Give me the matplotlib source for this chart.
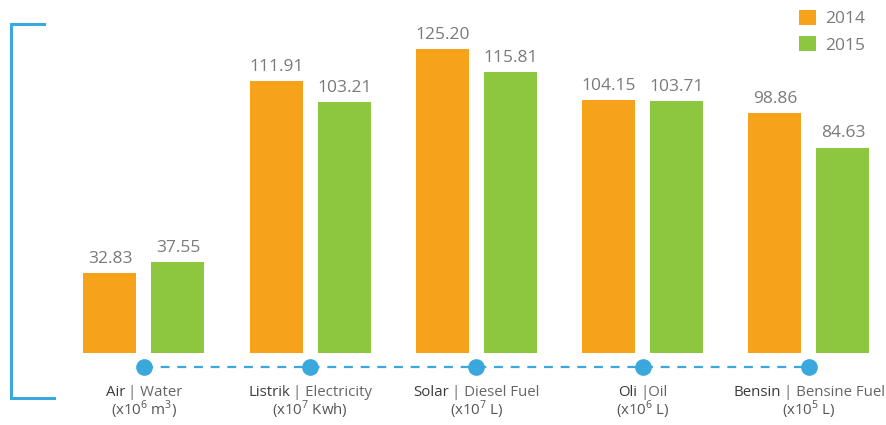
import numpy as np
import matplotlib
matplotlib.use('Agg')
import matplotlib.pyplot as plt
from matplotlib.lines import Line2D

plt.rcParams['font.family'] = ['Open Sans', 'DejaVu Sans']
plt.rcParams['mathtext.fontset'] = 'custom'
plt.rcParams['mathtext.rm'] = 'Open Sans'

# data
cat_id = ['Air', 'Listrik', 'Solar', 'Oli', 'Bensin']
cat_en = ['| Water', '| Electricity', '| Diesel Fuel', '|Oil', '| Bensine Fuel']
units = ['(x10$^6$ m$^3$)', '(x10$^7$ Kwh)', '(x10$^7$ L)', '(x10$^6$ L)', '(x10$^5$ L)']
years = ['2014', '2015']
v2014 = [32.83, 111.91, 125.20, 104.15, 98.86]
v2015 = [37.55, 103.21, 115.81, 103.71, 84.63]

ORANGE = '#F7A21B'
GREEN = '#8DC63F'
BLUE = '#3AA8DD'
VALGRAY = '#7a7a7a'

W, H = 887, 425
fig = plt.figure(figsize=(W/100, H/100), dpi=100)
# axes: zero line at 72px from bottom
ax = fig.add_axes([0, 72/H, 1, 1 - 72/H])
step = 166.25  # px between groups
ppu = 304/125.2  # px per unit
ax.set_xlim(-144/step, (W-144)/step)
ax.set_ylim(0, (H-72)/ppu)
ax.axis('off')

x = np.arange(len(cat_id))
bw = 53/step
off = 34/step
b1 = ax.bar(x - off, v2014, bw, color=ORANGE, label=years[0])
b2 = ax.bar(x + off, v2015, bw, color=GREEN, label=years[1])
for b in (b1, b2):
  ax.bar_label(b, fmt='%.2f', padding=4.5, color=VALGRAY, fontsize=12.5)

# dashed timeline with dots
ydot = -14/ppu
ax.plot([x[0], x[-1]], [ydot, ydot], ls=(0, (4, 3.5)), lw=1.6, color=BLUE, clip_on=False)
ax.plot(x, [ydot]*len(x), 'o', ms=11, color=BLUE, clip_on=False)

# two-tone category labels
r = fig.canvas.get_renderer()
y1 = -39/ppu
y2 = -57/ppu
fs = 10.8
gap = 3  # px between the two parts
for i in range(len(x)):
  t1 = ax.annotate(cat_id[i], (x[i], y1), xytext=(0, 0), textcoords='offset pixels',
                   ha='left', va='center', fontsize=fs, color='#3a3a3a', annotation_clip=False)
  t2 = ax.annotate(cat_en[i], (x[i], y1), xytext=(0, 0), textcoords='offset pixels',
                   ha='left', va='center', fontsize=fs, color='#656565', annotation_clip=False)
  w1 = t1.get_window_extent(r).width
  w2 = t2.get_window_extent(r).width
  tot = w1 + gap + w2
  t1.set_position((-tot/2, 0))
  t2.set_position((-tot/2 + w1 + gap, 0))
  ax.text(x[i], y2, units[i], ha='center', va='center', fontsize=fs, color='#555555', clip_on=False)

# left bracket
fig.add_artist(Line2D([44/W, 11/W, 11/W, 54/W], [1-24/H, 1-24/H, 1-398/H, 1-398/H],
                      transform=fig.transFigure, color=BLUE, lw=2.2, solid_joinstyle='miter'))

leg = fig.legend(loc='upper right', bbox_to_anchor=(872/W, 1 - 3/H), frameon=False,
                 fontsize=12.5, handlelength=0.95, handleheight=0.95, handletextpad=0.55,
                 labelspacing=0.5, borderaxespad=0)
for t in leg.get_texts():
  t.set_color(VALGRAY)

fig.savefig('out.png', dpi=100)
